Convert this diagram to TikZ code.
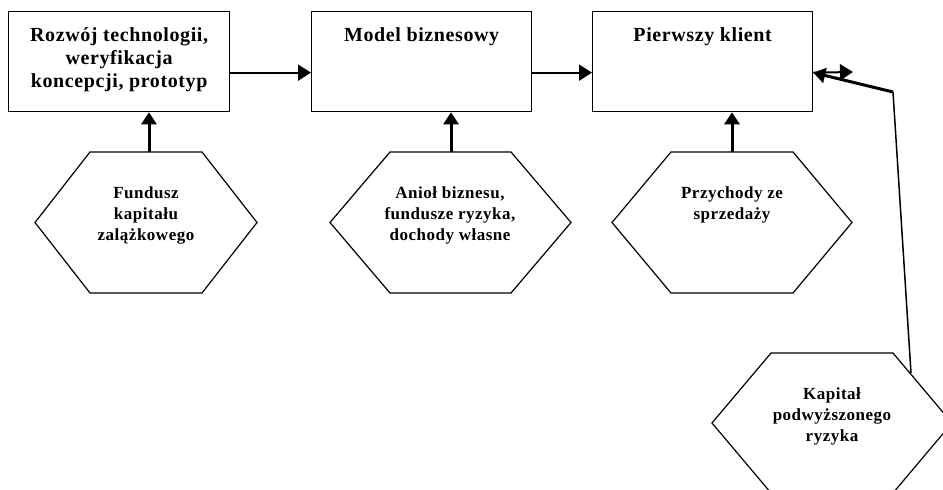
\documentclass[tikz,border=0pt]{standalone}
\usepackage{fontspec}
\setmainfont{Liberation Serif}[LetterSpace=3]
\usetikzlibrary{arrows.meta,calc}
\begin{document}
\begin{tikzpicture}[x=1pt,y=-1pt,
  stagebox/.style={draw, line width=1.3pt, minimum height=100pt, anchor=north west, inner sep=0pt},
  boxtext/.style={font=\fontsize{20}{23}\selectfont\bfseries, align=center, anchor=north, inner sep=0pt},
  hextext/.style={font=\fontsize{17}{21}\selectfont\bfseries, align=center, anchor=north, inner sep=0pt},
  hexline/.style={line width=1.2pt, line join=miter},
  harrow/.style={line width=2pt, -{Triangle[length=13pt,width=16pt]}},
  varrow/.style={line width=3pt, -{Triangle[length=12pt,width=15pt]}},
  thinline/.style={line width=1.5pt}
]
\useasboundingbox (0,0) rectangle (943,490);
% stage boxes
\node[stagebox, minimum width=221pt] (b1) at (8,11) {};
\node[stagebox, minimum width=220pt] (b2) at (311,11) {};
\node[stagebox, minimum width=220pt] (b3) at (592,11) {};
\node[boxtext] (t1) at (b1.north |- 0,27) {Rozwój technologii,\\weryfikacja\\koncepcji, prototyp};
\node[boxtext] (t2) at (b2.north |- 0,27) {Model biznesowy};
\node[boxtext] (t3) at (b3.north |- 0,27) {Pierwszy klient};
% hexagons
\draw[hexline] (35,222.5) -- (90,152) -- (202,152) -- (257,222.5) -- (202,293) -- (90,293) -- cycle;
\draw[hexline] (330,222.5) -- (390,152) -- (511,152) -- (571,222.5) -- (511,293) -- (390,293) -- cycle;
\draw[hexline] (612,222.5) -- (671,152) -- (793,152) -- (852,222.5) -- (793,293) -- (671,293) -- cycle;
\begin{scope}
\clip (0,0) rectangle (943,490);
\draw[hexline] (712,423) -- (771,353) -- (893,353) -- (952,423) -- (893,493) -- (771,493) -- cycle;
\end{scope}
\node[hextext] (h1) at (146,187) {Fundusz\\kapitału\\zalążkowego};
\node[hextext] (h2) at (450,187) {Anioł biznesu,\\fundusze ryzyka,\\dochody własne};
\node[hextext] (h3) at (732,187) {Przychody ze\\sprzedaży};
\node[hextext] (h4) at (832,387) {Kapitał\\podwyższonego\\ryzyka};
% hexagon tops
\coordinate (h1top) at (149,152);
\coordinate (h2top) at (451,152);
\coordinate (h3top) at (732,152);
\coordinate (h4edge) at (911,373);
\coordinate (bend) at (893,92);
\coordinate (tipR) at (853,72);
% connectors
\draw[harrow] ([yshift=-11pt]b1.east) -- ([yshift=-11pt]b2.west);
\draw[harrow] ([yshift=-11pt]b2.east) -- ([yshift=-11pt]b3.west);
\draw[varrow] (h1top) -- (h1top |- b1.south);
\draw[varrow] (h2top) -- (h2top |- b2.south);
\draw[varrow] (h3top) -- (h3top |- b3.south);
\draw[thinline] (h4edge) -- (bend);
\draw[varrow] (bend) -- ([yshift=-11pt]b3.east);
\draw[harrow] ([yshift=-11pt]b3.east) -- (tipR);
\end{tikzpicture}
\end{document}
